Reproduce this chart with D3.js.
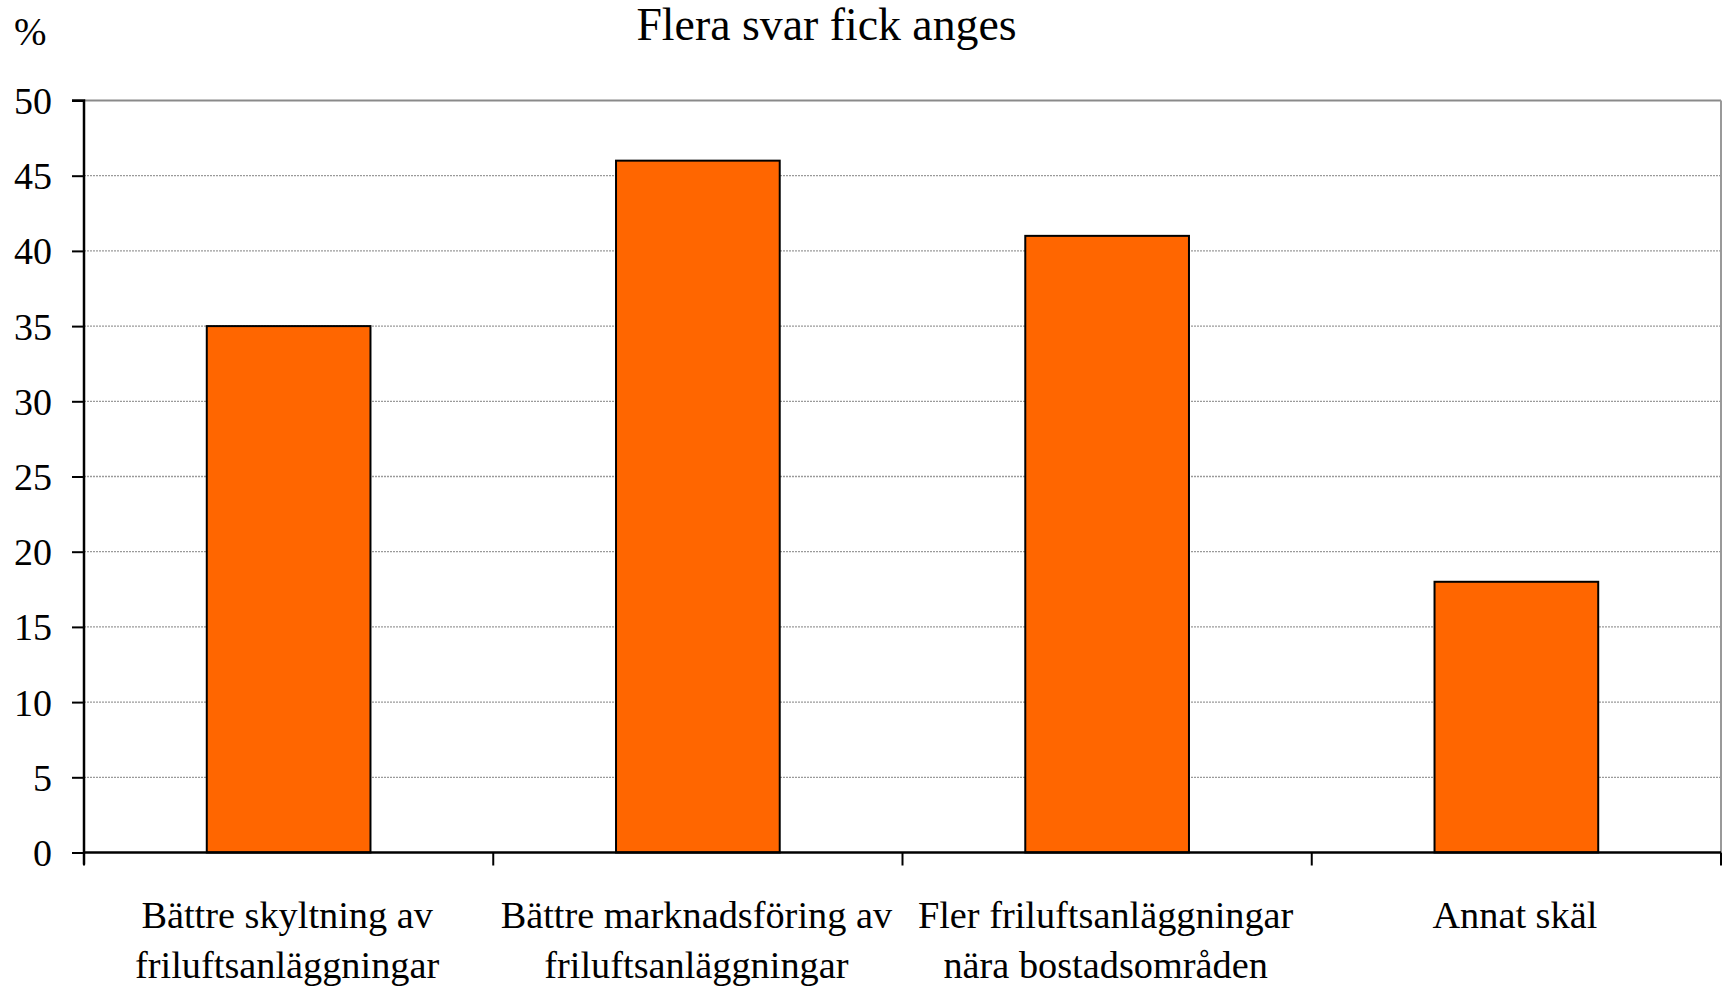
<!DOCTYPE html>
<html><head><meta charset="utf-8">
<script src="https://cdn.jsdelivr.net/npm/d3@7"></script>
<style>
html,body{margin:0;padding:0;background:#fff;}
svg text{font-family:"Liberation Serif","Times New Roman",serif;fill:#000;}
</style></head>
<body>
<svg id="chart" width="1729" height="987"></svg>
<script>
const categories = [
  ["Bättre skyltning av", "friluftsanläggningar"],
  ["Bättre marknadsföring av", "friluftsanläggningar"],
  ["Fler friluftsanläggningar", "nära bostadsområden"],
  ["Annat skäl"]
];
const values = [35, 46, 41, 18];
const yTicks = [0, 5, 10, 15, 20, 25, 30, 35, 40, 45, 50];
const title = "Flera svar fick anges";
const yUnit = "%";

const svg = d3.select("#chart");
const pL = 84, pR = 1721, pT = 100.5, pB = 852.5;

const x = d3.scaleBand().domain(d3.range(values.length)).range([pL, pR]).padding(0);
const y = d3.scaleLinear().domain([0, 50]).range([pB, pT]);

// gridlines
svg.append("g").selectAll("line").data(yTicks.filter(d => d > 0 && d < 50)).join("line")
  .attr("x1", pL).attr("x2", pR)
  .attr("y1", d => y(d)).attr("y2", d => y(d))
  .attr("stroke", "#9a9a9a").attr("stroke-width", 1.3).attr("stroke-dasharray", "2,1");
// top border
svg.append("line").attr("x1", pL).attr("x2", pR).attr("y1", y(50)).attr("y2", y(50))
  .attr("stroke", "#8a8a8a").attr("stroke-width", 2);
// right border
svg.append("line").attr("x1", pR).attr("x2", pR).attr("y1", y(50)).attr("y2", y(0))
  .attr("stroke", "#999").attr("stroke-width", 2);

// bars
const bw = x.bandwidth() * 0.4;
svg.append("g").selectAll("rect").data(values).join("rect")
  .attr("x", (d, i) => x(i) + x.bandwidth() / 2 - bw / 2)
  .attr("width", bw)
  .attr("y", d => y(d))
  .attr("height", d => y(0) - y(d))
  .attr("fill", "#FF6600").attr("stroke", "#000").attr("stroke-width", 2);

// y axis
const yAxis = d3.axisLeft(y).tickValues(yTicks).tickSize(12).tickPadding(20);
const gy = svg.append("g").attr("transform", `translate(${pL},0)`).call(yAxis);
gy.select(".domain").attr("stroke", "#000").attr("stroke-width", 2.5).attr("d", `M-12,${pT}H0V${pB + 12}`);
gy.selectAll(".tick line").attr("stroke", "#000").attr("stroke-width", 2);
gy.selectAll(".tick text").attr("font-size", 38).attr("font-family", '"Liberation Serif",serif').attr("dy", "0.34em");

// x axis
svg.append("line").attr("x1", pL).attr("x2", pR).attr("y1", pB).attr("y2", pB)
  .attr("stroke", "#000").attr("stroke-width", 2.5);
const xTickPos = d3.range(values.length + 1).map(i => pL + i * x.step());
svg.append("g").selectAll("line").data(xTickPos).join("line")
  .attr("x1", d => d).attr("x2", d => d).attr("y1", pB).attr("y2", pB + 13)
  .attr("stroke", "#000").attr("stroke-width", 2);

// category labels
const lab = svg.append("g").selectAll("text").data(categories).join("text")
  .attr("text-anchor", "middle").attr("font-size", 38.3)
  .attr("x", (d, i) => x(i) + x.bandwidth() / 2 - 1.5)
  .attr("y", 928);
lab.selectAll("tspan").data(d => d).join("tspan")
  .attr("x", function() { return this.parentNode.getAttribute("x"); })
  .attr("dy", (d, i) => i === 0 ? 0 : 50)
  .text(d => d);

// title
svg.append("text").attr("x", 826.5).attr("y", 40).attr("text-anchor", "middle")
  .attr("font-size", 45.8).text(title);
svg.append("text").attr("x", 14).attr("y", 45).attr("font-size", 39).text(yUnit);
</script>
</body></html>
